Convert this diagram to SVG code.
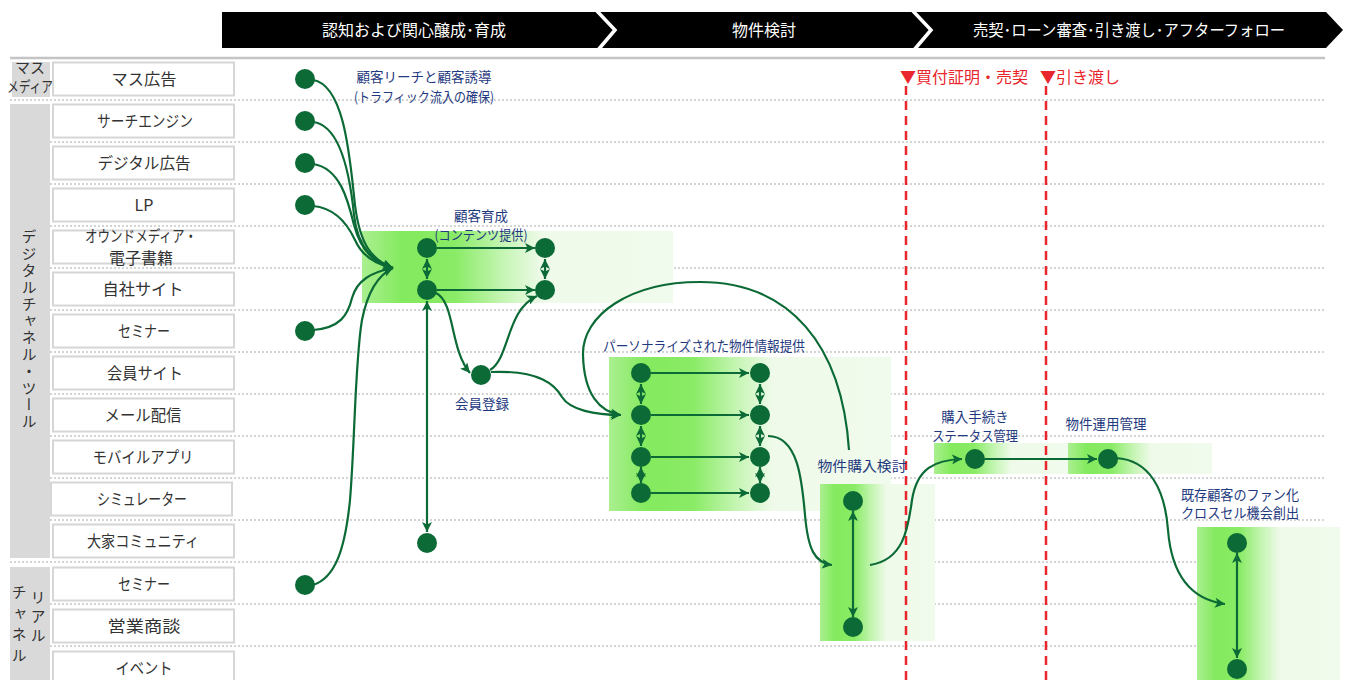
<svg xmlns="http://www.w3.org/2000/svg" width="1345" height="680" viewBox="0 0 1345 680">
<defs>
<style>
text{font-family:"Noto Sans CJK JP","Noto Sans",sans-serif;font-weight:400;}
.hd{fill:#fff;font-size:16px;text-anchor:middle;}
.row{fill:#fff;stroke:#d6d6d6;stroke-width:2;}
.rl{fill:#333;font-size:16px;text-anchor:middle;}
.cat{fill:#d9d9d9;}
.ct{fill:#333;font-size:15px;}
.dot{stroke:#c6c6c6;stroke-width:1.6;stroke-dasharray:2 2;fill:none;}
.nd{fill:#0b6a35;}
.ln{fill:none;stroke:#0b6a35;stroke-width:2.2;}
.ar{marker-end:url(#ah);}
.da{marker-end:url(#ah);marker-start:url(#ah);}
.lb{fill:#1f3a7e;font-size:13.5px;text-anchor:middle;}
.red{fill:#e8262c;font-size:16px;}
.rd{stroke:#e8262c;stroke-width:2.5;stroke-dasharray:9 6;fill:none;}
.band{fill:url(#gg);}
</style>
<linearGradient id="gg" x1="0" y1="0" x2="1" y2="0">
<stop offset="0" stop-color="#aaef90"/>
<stop offset="0.13" stop-color="#84ea5e"/>
<stop offset="0.3" stop-color="#8aeb66"/>
<stop offset="0.45" stop-color="#c4f5b2"/>
<stop offset="0.58" stop-color="#effaea"/>
<stop offset="1" stop-color="#f1fbed"/>
</linearGradient>
<marker id="ah" viewBox="0 0 10 10" refX="10" refY="5" markerWidth="10" markerHeight="10" markerUnits="userSpaceOnUse" orient="auto-start-reverse">
<path d="M0,0 L10,5 L0,10 L2.5,5 z" fill="#0b6a35"/>
</marker>
</defs>

<!-- header -->
<g id="header">
<polygon points="222,12 1326,12 1343,30 1326,48 222,48" fill="#000"/>
<polyline points="596,10 615,30 598,50" fill="none" stroke="#fff" stroke-width="3.5"/>
<polyline points="912,10 931,30 914,50" fill="none" stroke="#fff" stroke-width="3.5"/>
<text class="hd" x="414" y="36" font-size="17">認知および関心醸成･育成</text>
<text class="hd" x="764" y="36" font-size="17">物件検討</text>
<text class="hd" x="1129" y="36" font-size="17" textLength="312" lengthAdjust="spacingAndGlyphs">売契･ローン審査･引き渡し･アフターフォロー</text>
</g>
<line x1="10" y1="58" x2="1325" y2="58" stroke="#c4c4c4" stroke-width="2.5"/>

<!-- dotted row separators -->
<g id="grid">
<line class="dot" x1="10" y1="100" x2="1325" y2="100"/>
<line class="dot" x1="10" y1="142" x2="1325" y2="142"/>
<line class="dot" x1="10" y1="184" x2="1325" y2="184"/>
<line class="dot" x1="10" y1="226" x2="1325" y2="226"/>
<line class="dot" x1="10" y1="268" x2="1325" y2="268"/>
<line class="dot" x1="10" y1="310" x2="1325" y2="310"/>
<line class="dot" x1="10" y1="352" x2="1325" y2="352"/>
<line class="dot" x1="10" y1="394" x2="1325" y2="394"/>
<line class="dot" x1="10" y1="436" x2="1325" y2="436"/>
<line class="dot" x1="10" y1="478" x2="1325" y2="478"/>
<line class="dot" x1="10" y1="520" x2="1325" y2="520"/>
<line class="dot" x1="10" y1="562" x2="1325" y2="562"/>
<line class="dot" x1="10" y1="604" x2="1325" y2="604"/>
<line class="dot" x1="10" y1="646" x2="1325" y2="646"/>
</g>

<!-- categories -->
<g id="cat-mass">
<rect class="cat" x="12" y="62" width="38" height="35"/>
<text class="ct" x="30" y="73" text-anchor="middle" font-size="14">マス</text>
<text class="ct" x="30" y="92" text-anchor="middle" font-size="14" textLength="46" lengthAdjust="spacingAndGlyphs">メディア</text>
</g>
<g id="cat-digital">
<rect class="cat" x="10" y="104" width="40" height="454"/>
<text class="ct" x="29" y="330" text-anchor="middle" font-size="15" letter-spacing="1.8" writing-mode="vertical-rl">デジタルチャネル・ツール</text>
</g>
<g id="cat-real">
<rect class="cat" x="10" y="567" width="40" height="113"/>
<text class="ct" x="38" y="618" text-anchor="middle" font-size="15" letter-spacing="4" writing-mode="vertical-rl">リアル</text>
<text class="ct" x="19" y="627" text-anchor="middle" font-size="15" letter-spacing="6" writing-mode="vertical-rl">チャネル</text>
</g>

<!-- row labels -->
<g id="rows">
<g id="r-mass"><rect class="row" x="53" y="62.5" width="181" height="33"/><text class="rl" x="144" y="85" textLength="65" lengthAdjust="spacingAndGlyphs">マス広告</text></g>
<g id="r-search"><rect class="row" x="53" y="104.5" width="181" height="33"/><text class="rl" x="145" y="127" textLength="96" lengthAdjust="spacingAndGlyphs">サーチエンジン</text></g>
<g id="r-digiad"><rect class="row" x="53" y="146.5" width="181" height="33"/><text class="rl" x="144" y="169" textLength="93" lengthAdjust="spacingAndGlyphs">デジタル広告</text></g>
<g id="r-lp"><rect class="row" x="53" y="188.5" width="181" height="33"/><text class="rl" x="144" y="211">LP</text></g>
<g id="r-owned"><rect class="row" x="53" y="230.5" width="181" height="33"/><text class="rl" x="141" y="242" font-size="14.5" textLength="112" lengthAdjust="spacingAndGlyphs">オウンドメディア・</text><text class="rl" x="141" y="264" font-size="15">電子書籍</text></g>
<g id="r-own"><rect class="row" x="53" y="272.5" width="181" height="33"/><text class="rl" x="143" y="295" textLength="81" lengthAdjust="spacingAndGlyphs">自社サイト</text></g>
<g id="r-seminar"><rect class="row" x="53" y="314.5" width="181" height="33"/><text class="rl" x="144" y="337" textLength="52" lengthAdjust="spacingAndGlyphs">セミナー</text></g>
<g id="r-member"><rect class="row" x="53" y="356.5" width="181" height="33"/><text class="rl" x="145" y="379" textLength="76" lengthAdjust="spacingAndGlyphs">会員サイト</text></g>
<g id="r-mail"><rect class="row" x="53" y="398.5" width="181" height="33"/><text class="rl" x="143" y="421" textLength="77" lengthAdjust="spacingAndGlyphs">メール配信</text></g>
<g id="r-app"><rect class="row" x="53" y="440.5" width="181" height="33"/><text class="rl" x="143" y="463" textLength="101" lengthAdjust="spacingAndGlyphs">モバイルアプリ</text></g>
<g id="r-sim"><rect class="row" x="51" y="482.5" width="181" height="33"/><text class="rl" x="142" y="505" textLength="90" lengthAdjust="spacingAndGlyphs">シミュレーター</text></g>
<g id="r-comm"><rect class="row" x="53" y="524.5" width="181" height="33"/><text class="rl" x="143" y="547" textLength="112" lengthAdjust="spacingAndGlyphs">大家コミュニティ</text></g>
<g id="r-rseminar"><rect class="row" x="53" y="567.5" width="181" height="33"/><text class="rl" x="144" y="590" textLength="52" lengthAdjust="spacingAndGlyphs">セミナー</text></g>
<g id="r-sales"><rect class="row" x="53" y="609.5" width="181" height="33"/><text class="rl" x="144" y="632" textLength="73" lengthAdjust="spacingAndGlyphs">営業商談</text></g>
<g id="r-event"><rect class="row" x="53" y="651.5" width="181" height="33"/><text class="rl" x="144" y="674" textLength="57" lengthAdjust="spacingAndGlyphs">イベント</text></g>
</g>

<!-- green bands -->
<g id="bands">
<rect class="band" x="362" y="231" width="311" height="72"/>
<rect class="band" x="609" y="357" width="282" height="154"/>
<rect class="band" x="820" y="484" width="115" height="157"/>
<rect class="band" x="934" y="443" width="134" height="31"/>
<rect class="band" x="1068" y="443" width="144" height="31"/>
<rect class="band" x="1197" y="527" width="143" height="153"/>
</g>

<!-- milestones -->
<g id="milestones">
<line class="rd" x1="906" y1="86" x2="906" y2="680"/>
<line class="rd" x1="1046" y1="86" x2="1046" y2="680"/>
<text class="red" x="900" y="83">▼買付証明・売契</text>
<text class="red" x="1040" y="83">▼引き渡し</text>
</g>

<!-- connectors -->
<g id="connectors">
<path class="ln ar" d="M313,80 C345,85 350,160 355,205 C360,245 372,260 393,268"/>
<path class="ln ar" d="M313,122 C340,125 350,175 354,215 C358,250 375,262 393,268"/>
<path class="ln ar" d="M313,164 C340,168 348,200 354,225 C362,255 378,264 393,268"/>
<path class="ln ar" d="M313,206 C335,208 348,225 355,240 C363,258 378,265 393,268"/>
<path class="ln ar" d="M313,330 C340,328 348,315 352,298 C357,280 372,272 393,268"/>
<path class="ln ar" d="M313,585 C335,578 345,550 350,500 C355,440 355,360 362,320 C368,290 380,274 393,268"/>
<path class="ln ar" d="M437,248 H535"/>
<path class="ln ar" d="M437,290 H535"/>
<path class="ln da" d="M427,259 V279"/>
<path class="ln da" d="M545,259 V279"/>
<path class="ln da" d="M427,301 V532"/>
<path class="ln ar" d="M436,293 C455,302 450,350 470,373"/>
<path class="ln ar" d="M490,370 C510,358 506,310 537,296"/>
<path class="ln ar" d="M491,372 C540,370 555,385 562,397 C570,410 595,415 621,415"/>
<path class="ln ar" d="M651,373 H749"/>
<path class="ln ar" d="M651,415 H749"/>
<path class="ln ar" d="M651,457 H749"/>
<path class="ln ar" d="M651,493 H749"/>
<path class="ln da" d="M641,384 V404"/>
<path class="ln da" d="M641,426 V446"/>
<path class="ln da" d="M641,467 V483"/>
<path class="ln da" d="M760,384 V404"/>
<path class="ln da" d="M760,426 V446"/>
<path class="ln da" d="M760,467 V483"/>
<path class="ln ar" d="M849,450 C842,345 790,282 700,282 C630,282 582,315 583,355 C584,395 600,412 621,415"/>
<path class="ln ar" d="M768,436 C798,436 802,480 805,515 C808,550 815,563 832,565"/>
<path class="ln da" d="M853,511 V617"/>
<path class="ln ar" d="M870,565 C903,560 908,530 912,500 C917,468 935,460 962,459"/>
<path class="ln ar" d="M985,459 H1097"/>
<path class="ln ar" d="M1116,458 C1150,460 1165,490 1168,530 C1172,580 1195,600 1225,604"/>
<path class="ln da" d="M1237,553 V658"/>
</g>

<!-- nodes -->
<g id="n-mass"><circle class="nd" cx="305" cy="79" r="10"/></g>
<g id="n-search"><circle class="nd" cx="305" cy="121" r="10"/></g>
<g id="n-digiad"><circle class="nd" cx="305" cy="163" r="10"/></g>
<g id="n-lp"><circle class="nd" cx="305" cy="205" r="10"/></g>
<g id="n-seminar"><circle class="nd" cx="305" cy="331" r="10"/></g>
<g id="n-rseminar"><circle class="nd" cx="305" cy="585" r="10"/></g>
<g id="n-reach"><text class="lb" x="424" y="82">顧客リーチと顧客誘導</text><text class="lb" x="424" y="102" textLength="140" lengthAdjust="spacingAndGlyphs">(トラフィック流入の確保)</text></g>
<g id="n-nurture">
<text class="lb" x="481" y="221">顧客育成</text><text class="lb" x="481" y="240" textLength="93" lengthAdjust="spacingAndGlyphs">(コンテンツ提供)</text>
<circle class="nd" cx="427" cy="248" r="10"/><circle class="nd" cx="545" cy="248" r="10"/>
<circle class="nd" cx="427" cy="290" r="10"/><circle class="nd" cx="545" cy="290" r="10"/>
</g>
<g id="n-community"><circle class="nd" cx="427" cy="543" r="10"/></g>
<g id="n-register"><circle class="nd" cx="481" cy="375" r="10"/><text class="lb" x="482" y="409">会員登録</text></g>
<g id="n-personal">
<text class="lb" x="704" y="351" textLength="202" lengthAdjust="spacingAndGlyphs">パーソナライズされた物件情報提供</text>
<circle class="nd" cx="641" cy="373" r="10"/><circle class="nd" cx="760" cy="373" r="10"/>
<circle class="nd" cx="641" cy="415" r="10"/><circle class="nd" cx="760" cy="415" r="10"/>
<circle class="nd" cx="641" cy="457" r="10"/><circle class="nd" cx="760" cy="457" r="10"/>
<circle class="nd" cx="641" cy="493" r="10"/><circle class="nd" cx="760" cy="493" r="10"/>
</g>
<g id="n-purchase">
<text class="lb" x="862" y="471" textLength="89" lengthAdjust="spacingAndGlyphs">物件購入検討</text>
<circle class="nd" cx="853" cy="501" r="10"/><circle class="nd" cx="853" cy="627" r="10"/>
</g>
<g id="n-procedure">
<text class="lb" x="975" y="422">購入手続き</text><text class="lb" x="975" y="441" textLength="86" lengthAdjust="spacingAndGlyphs">ステータス管理</text>
<circle class="nd" cx="975" cy="459" r="10"/>
</g>
<g id="n-operation">
<text class="lb" x="1106" y="429">物件運用管理</text>
<circle class="nd" cx="1108" cy="459" r="10"/>
</g>
<g id="n-fan">
<text class="lb" x="1240" y="500" textLength="118" lengthAdjust="spacingAndGlyphs">既存顧客のファン化</text><text class="lb" x="1240" y="518" textLength="118" lengthAdjust="spacingAndGlyphs">クロスセル機会創出</text>
<circle class="nd" cx="1237" cy="543" r="10"/><circle class="nd" cx="1237" cy="669" r="10"/>
</g>
</svg>
